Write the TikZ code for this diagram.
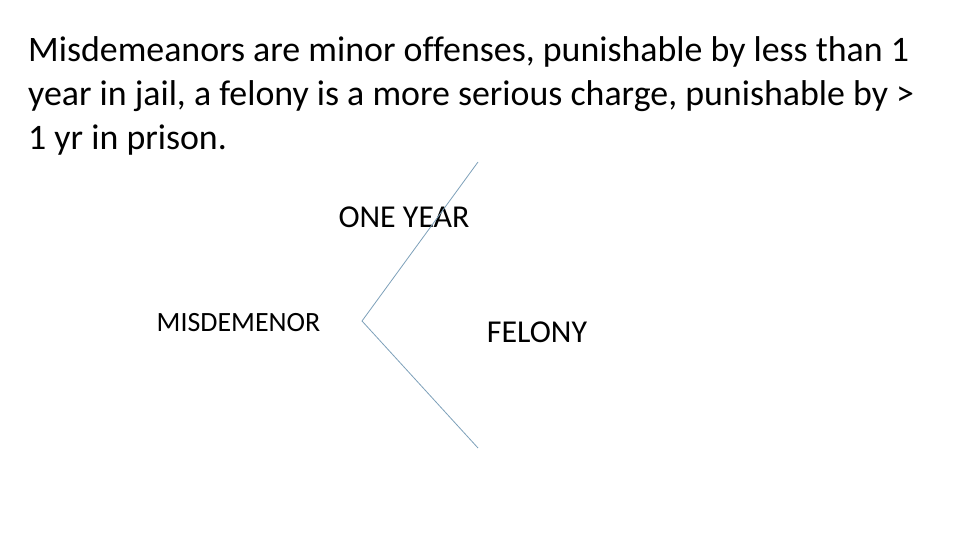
\documentclass[tikz,border=0pt]{standalone}
\usepackage{fontspec}
\setmainfont[Ligatures=NoCommon]{Carlito}
\definecolor{linecol}{RGB}{125,160,185}
\begin{document}
\begin{tikzpicture}[x=1bp,y=-1bp,
  title/.style={anchor=base west,inner sep=0pt,font=\fontsize{36}{44}\selectfont},
  lbl/.style={anchor=base,inner sep=0pt,font=\fontsize{32}{36}\selectfont},
  vline/.style={draw=linecol,line width=0.8bp}]
\useasboundingbox (0,0) rectangle (960,540);
\node[title] (t1) at (28,62) {Misdemeanors are minor offenses, punishable by less than 1};
\node[title] (t2) at (28,106) {year in jail, a felony is a more serious charge, punishable by >};
\node[title] (t3) at (28,150) {1 yr in prison.};
\node[lbl] (one) at (404,228) {ONE YEAR};
\node[lbl,font=\fontsize{28}{32}\selectfont] (mis) at (238.5,332) {MISDEMENOR};
\node[lbl] (fel) at (537,343) {FELONY};
\coordinate (top) at (478,162);
\coordinate (tip) at (362,321);
\coordinate (bot) at (478,448);
\draw[vline] (top) -- (tip) -- (bot);
\end{tikzpicture}
\end{document}
